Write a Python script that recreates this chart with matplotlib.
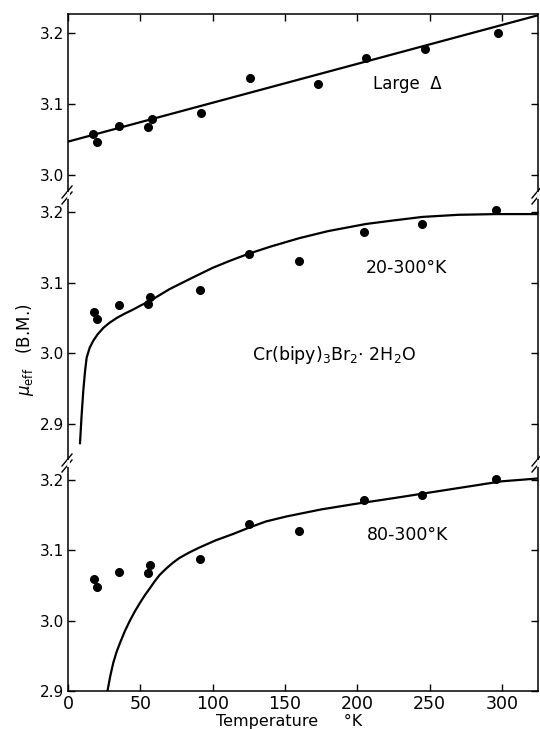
import matplotlib
matplotlib.use("Agg")
import matplotlib.pyplot as plt
from matplotlib.lines import Line2D

# measured points (same sample, three fits)
temp_top = [17, 20, 35, 55, 58, 92, 126, 173, 206, 247, 297]
mu_top = [3.058, 3.047, 3.069, 3.068, 3.079, 3.088, 3.136, 3.128, 3.165, 3.178, 3.200]

temp_pts = [18, 20, 35, 55, 57, 91, 125, 160, 205, 245, 296]
mu_mid = [3.059, 3.049, 3.069, 3.070, 3.080, 3.090, 3.141, 3.130, 3.171, 3.183, 3.203]
mu_bot = [3.059, 3.048, 3.069, 3.068, 3.079, 3.087, 3.138, 3.128, 3.171, 3.179, 3.201]

# fitted curves
fit_top_t = [0, 325]
fit_top_mu = [3.047, 3.225]

fit_mid_t = [8.3, 9.4, 10.6, 11.8, 12.9, 15, 17.5, 20.5, 24.4, 28.5, 33.6, 39,
             45, 50.5, 56.6, 63, 70.3, 85, 100, 112, 125, 140, 160, 180, 206,
             225, 245, 270, 296, 325]
fit_mid_mu = [2.873, 2.912, 2.948, 2.975, 2.994, 3.008, 3.018, 3.027, 3.036,
              3.043, 3.050, 3.056, 3.062, 3.068, 3.074, 3.082, 3.091, 3.106,
              3.121, 3.131, 3.141, 3.151, 3.163, 3.173, 3.183, 3.188, 3.193,
              3.196, 3.197, 3.197]

fit_bot_t = [27.3, 29.2, 31.3, 33.5, 35.9, 39.3, 42.8, 46.2, 49.7, 53.1, 56.6,
             60, 63.4, 67.9, 72.4, 77, 84, 91, 102, 114, 125, 137, 151, 175,
             199, 225, 250, 275, 300, 325]
fit_bot_mu = [2.900, 2.921, 2.940, 2.955, 2.968, 2.985, 3.000, 3.013, 3.025,
              3.036, 3.046, 3.056, 3.065, 3.074, 3.082, 3.089, 3.097, 3.104,
              3.114, 3.123, 3.132, 3.141, 3.148, 3.158, 3.166, 3.174, 3.182,
              3.190, 3.198, 3.202]

xticks = [0, 50, 100, 150, 200, 250, 300]

plt.rcParams['font.family'] = ['DejaVu Sans']
fig = plt.figure(figsize=(5.4, 7.29), dpi=100)

W, H = 540.0, 729.0
left = 68 / W
width = 470 / W

def panel(top_px, bot_px, ylim, yticks):
    ax = fig.add_axes([left, 1 - bot_px / H, width, (bot_px - top_px) / H])
    ax.set_xlim(0, 325)
    ax.set_ylim(*ylim)
    ax.set_yticks(yticks)
    ax.set_yticklabels([f"{v:.1f}" for v in yticks])
    ax.set_xticks(xticks)
    ax.tick_params(direction='in', length=5, width=1, labelsize=11, pad=3,
                   right=True, top=True)
    ax.tick_params(axis='x', labelsize=12.5)
    for s in ax.spines.values():
        s.set_linewidth(1.1)
    return ax

ax1 = panel(14, 195, (2.9718, 3.2268), [3.0, 3.1, 3.2])
ax2 = panel(195, 463, (2.845, 3.224), [2.9, 3.0, 3.1, 3.2])
ax3 = panel(463, 691, (2.9, 3.224), [2.9, 3.0, 3.1, 3.2])

ax1.spines['bottom'].set_visible(False)
ax1.tick_params(bottom=False, labelbottom=False)
ax2.spines['top'].set_visible(False)
ax2.spines['bottom'].set_visible(False)
ax2.tick_params(top=False, bottom=False, labelbottom=False)
ax3.spines['top'].set_visible(False)
ax3.tick_params(top=False)

ax1.plot(fit_top_t, fit_top_mu, color='black', lw=1.6)
ax1.plot(temp_top, mu_top, 'o', color='black', ms=5.5)
ax2.plot(fit_mid_t, fit_mid_mu, color='black', lw=1.6)
ax2.plot(temp_pts, mu_mid, 'o', color='black', ms=5.5)
ax3.plot(fit_bot_t, fit_bot_mu, color='black', lw=1.6)
ax3.plot(temp_pts, mu_bot, 'o', color='black', ms=5.5)

ax1.text(211, 3.128, "Large  Δ", ha='left', va='center', fontsize=12)
ax2.text(206, 3.121, "20-300°K", ha='left', va='center', fontsize=12.5)
ax2.text(184, 2.998, r"Cr(bipy)$_3$Br$_2$$\cdot$ 2H$_2$O", ha='center',
         va='center', fontsize=12.5)
ax3.text(207, 3.121, "80-300°K", ha='left', va='center', fontsize=12.5)

fig.text(289 / W, 1 - 721 / H, "Temperature     °K", ha='center',
         va='center', fontsize=11.5)
fig.text(25 / W, 1 - 350 / H, r"$\mu_{\rm eff}$   (B.M.)", rotation=90,
         ha='center', va='center', fontsize=12)

# axis break marks
for ypx in (195, 463):
    for xpx in (68, 538):
        for dy in (-3, 3):
            x0, x1 = (xpx - 6) / W, (xpx + 4) / W
            y0, y1 = 1 - (ypx + dy + 6) / H, 1 - (ypx + dy - 6) / H
            fig.add_artist(Line2D([x0, x1], [y0, y1], color='black', lw=1.0))
        fig.add_artist(Line2D([xpx / W, xpx / W], [1 - (ypx + 2) / H, 1 - (ypx - 2) / H],
                              color='white', lw=2.0))

fig.savefig("out.png", dpi=100)
